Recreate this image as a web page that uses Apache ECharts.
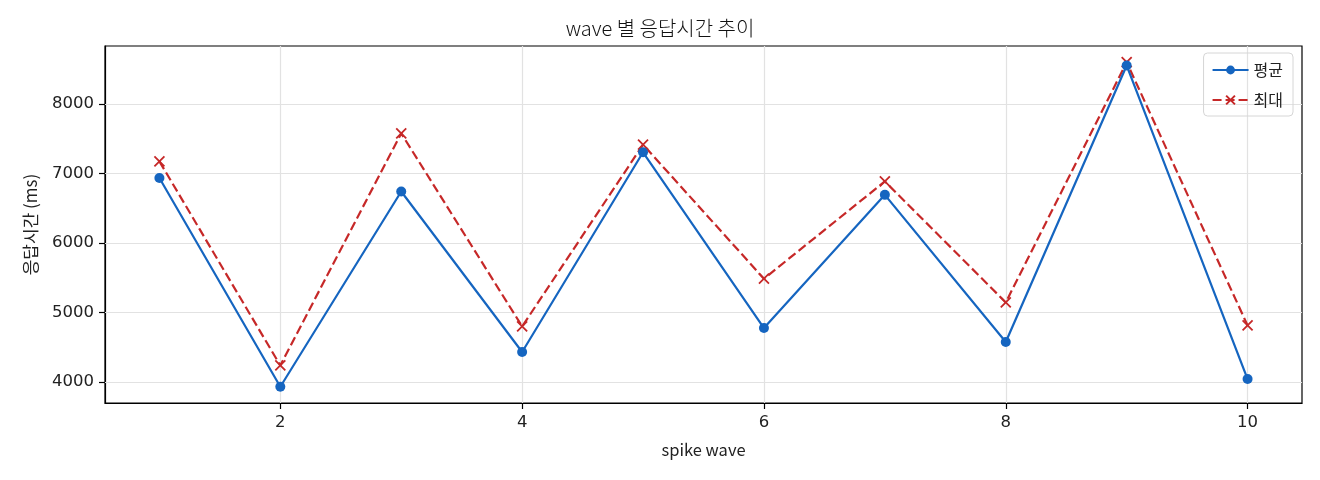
<!DOCTYPE html>
<html>
<head>
<meta charset="utf-8">
<script src="https://cdn.jsdelivr.net/npm/echarts@6/dist/echarts.min.js"></script>
<style>
  html, body { margin: 0; padding: 0; background: #fff; }
  #main { width: 1320px; height: 480px; }
</style>
</head>
<body>
<div id="main"></div>
<script>
var chart = echarts.init(document.getElementById('main'));

var waves = [1, 2, 3, 4, 5, 6, 7, 8, 9, 10];
var avgMs = [6935, 3932, 6740, 4432, 7304, 4777, 6692, 4576, 8551, 4043];
var maxMs = [7174, 4239, 7576, 4800, 7414, 5486, 6885, 5145, 8599, 4814];
var xTicks = [2, 4, 6, 8, 10];
var yTicks = [4000, 5000, 6000, 7000, 8000];

var font = '"Noto Sans CJK KR", "Noto Sans", sans-serif';
var numFont = '"DejaVu Sans", sans-serif';

function pairs(ys) {
    return waves.map(function (w, i) { return [w, ys[i]]; });
}

// 5% margins like matplotlib
var allY = avgMs.concat(maxMs);
var yLo = Math.min.apply(null, allY), yHi = Math.max.apply(null, allY);
var yPad = (yHi - yLo) * 0.05;
var xPad = (waves[waves.length - 1] - waves[0]) * 0.05;

option = {
    backgroundColor: '#fff',
    animation: false,
    title: {
        text: 'wave 별 응답시간 추이',
        left: 'center',
        top: 13,
        textStyle: { fontFamily: font, fontSize: 20, fontWeight: 300, color: '#111' }
    },
    legend: {
        right: 27,
        top: 53,
        orient: 'vertical',
        itemWidth: 36,
        itemHeight: 11,
        itemGap: 14,
        padding: [9, 10, 8, 8],
        borderColor: '#d6d6d6',
        borderWidth: 1,
        borderRadius: 4,
        textStyle: { fontFamily: font, fontSize: 16, color: '#222' },
        data: ['평균', '최대']
    },
    grid: {
        left: 105,
        right: 18,
        top: 46,
        bottom: 77,
        show: true,
        borderColor: '#000',
        borderWidth: 1.2,
        containLabel: false
    },
    xAxis: {
        type: 'value',
        min: waves[0] - xPad,
        max: waves[waves.length - 1] + xPad,
        name: 'spike wave',
        nameLocation: 'middle',
        nameGap: 38,
        nameTextStyle: { fontFamily: font, fontSize: 16.5, color: '#222' },
        axisLine: { show: true, onZero: false, lineStyle: { color: '#000', width: 1.2 } },
        axisTick: { show: true, length: 6, customValues: xTicks, lineStyle: { color: '#000', width: 1.2 } },
        axisLabel: {
            customValues: xTicks, fontFamily: numFont, fontSize: 16.5, color: '#222', margin: 11,
            formatter: function (v) { return String(v); }
        },
        splitLine: { show: false }
    },
    yAxis: {
        type: 'value',
        min: yLo - yPad,
        max: yHi + yPad,
        name: '응답시간 (ms)',
        nameLocation: 'middle',
        nameGap: 66,
        nameTextStyle: { fontFamily: font, fontSize: 17, color: '#222' },
        axisLine: { show: true, onZero: false, lineStyle: { color: '#000', width: 1.2 } },
        axisTick: { show: true, length: 6, customValues: yTicks, lineStyle: { color: '#000', width: 1.2 } },
        axisLabel: {
            customValues: yTicks, fontFamily: numFont, fontSize: 16.5, color: '#222', margin: 11,
            formatter: function (v) { return String(v); }
        },
        splitLine: { show: false }
    },
    series: [
        {
            name: '평균',
            type: 'line',
            data: pairs(avgMs),
            symbol: 'circle',
            symbolSize: 10,
            z: 3,
            lineStyle: { color: '#1565C0', width: 2.2 },
            itemStyle: { color: '#1565C0' },
            // grid lines at the tick values
            markLine: {
                silent: true,
                symbol: 'none',
                label: { show: false },
                lineStyle: { color: '#e2e2e2', width: 1.2, type: 'solid' },
                z: 1,
                data: xTicks.map(function (v) { return { xAxis: v }; })
                    .concat(yTicks.map(function (v) { return { yAxis: v }; }))
            }
        },
        {
            name: '최대',
            type: 'line',
            data: pairs(maxMs),
            symbol: 'path://M0,0L10,10M10,0L0,10',
            symbolSize: 10,
            z: 2,
            lineStyle: { color: '#C62828', width: 2.2, type: [9, 4] },
            itemStyle: { color: 'rgba(0,0,0,0)', borderColor: '#C62828', borderWidth: 1.8 }
        }
    ]
};

chart.setOption(option);
</script>
</body>
</html>
